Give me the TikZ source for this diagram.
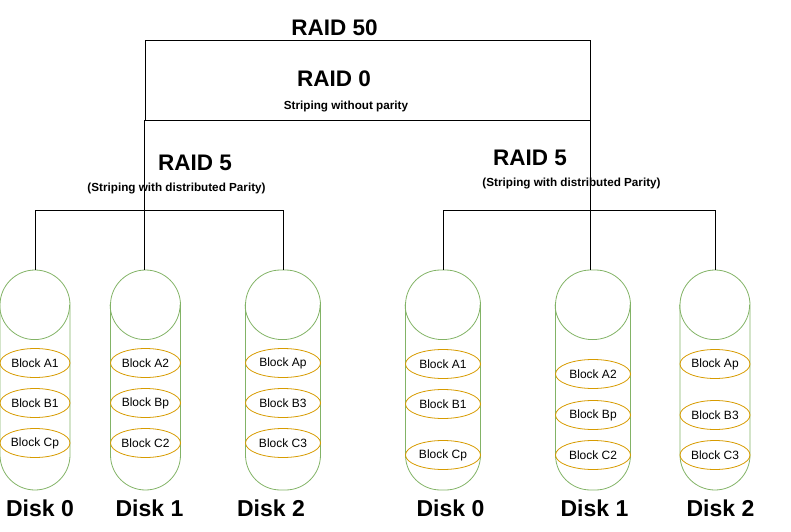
\documentclass[tikz,border=0pt]{standalone}
\usepackage{fontspec}
\setmainfont{Liberation Sans}
\usetikzlibrary{shapes.geometric}
\definecolor{diskgreen}{HTML}{82B366}
\definecolor{blockorange}{HTML}{D79B00}
\begin{document}
\begin{tikzpicture}[x=1pt,y=1pt,
    line/.style={draw=black, line width=0.9pt},
    diskline/.style={draw=diskgreen, line width=0.8pt},
    disk/.style={diskline, minimum height=220pt, rounded corners=35pt, inner sep=0pt},
    block/.style={ellipse, draw=blockorange, line width=0.8pt, minimum height=29pt, inner sep=0pt, font=\fontsize{12}{14}\selectfont},
    title/.style={font=\bfseries\fontsize{22.5}{26}\selectfont},
    sub/.style={font=\bfseries\fontsize{11.7}{13}\selectfont},
    disklabel/.style={font=\bfseries\fontsize{23}{26}\selectfont}]
  \useasboundingbox (0,0) rectangle (791,531);
%	the RAID 0 box on top
  \node[line, minimum width=445pt, minimum height=80pt, inner sep=0pt] (zero) at (367.5,451) {};
  \node[title] (t50) at (334.5,503) {RAID 50};
  \node[title] (t0) at (334,452) {RAID 0};
  \node[sub] (s0) at (346,424) {Striping without parity};
  \node[title] (t5l) at (195,368) {RAID 5};
  \node[sub] (s5l) at (176.5,342.5) {(Striping with distributed Parity)};
  \node[title] (t5r) at (530,373) {RAID 5};
  \node[sub] (s5r) at (571.5,348) {(Striping with distributed Parity)};
%	disks
  \foreach \n/\x/\w in {la/35/70, lb/145.5/70, lc/283/75, ra/443/75, rb/593/75, rc/715/70} {
    \node[disk, minimum width=\w pt] (\n) at (\x,151) {};
    \draw[diskline] ([yshift=-35pt]\n.north west) arc[start angle=180, end angle=360, x radius=\w/2, y radius=35];
  }
%	blocks
  \foreach \n/\w/\y/\t in {la/70/168/A1, la/70/128/B1, la/70/88/Cp,
      lb/70/168/A2, lb/70/128/Bp, lb/70/88/C2,
      lc/75/168/Ap, lc/75/128/B3, lc/75/88/C3,
      ra/75/167/A1, ra/75/127/B1, ra/75/76/Cp,
      rb/75/157/A2, rb/75/116/Bp, rb/75/76/C2,
      rc/70/167/Ap, rc/70/116/B3, rc/70/76/C3}
    \node[block, minimum width=\w pt] (\n-\t) at (\n.center |- 0,\y) {Block \t};
%	disk names
  \foreach \n/\x/\t in {la/40/0, lb/149.5/1, lc/271/2, ra/450.5/0, rb/594.5/1, rc/720.5/2}
    \node[disklabel] (\n-name) at (\x,23) {Disk \t};
%	connectors
  \coordinate (lbar) at (0,321);
  \coordinate (rbar) at (0,321);
  \draw[line] (zero.south west) -- (zero.south west |- lb.north);
  \draw[line] (zero.south east) -- (zero.south east |- rb.north);
  \draw[line] (la.north) -- (la.north |- lbar) -- (lc.north |- lbar) -- (lc.north);
  \draw[line] (ra.north) -- (ra.north |- rbar) -- (rc.north |- rbar) -- (rc.north);
\end{tikzpicture}
\end{document}
